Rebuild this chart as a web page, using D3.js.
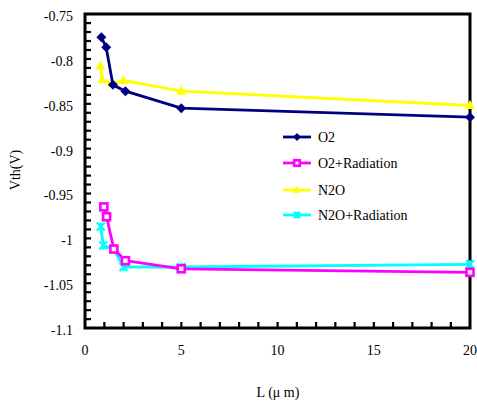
<!DOCTYPE html>
<html>
<head>
<meta charset="utf-8">
<script src="https://cdn.jsdelivr.net/npm/d3@7"></script>
<style>
  html, body { margin: 0; padding: 0; background: #fff; }
  svg text { font-family: "Liberation Serif", "Times New Roman", serif; }
</style>
</head>
<body>
<svg id="chart" width="477" height="405" xmlns="http://www.w3.org/2000/svg"></svg>
<script>
// Threshold voltage vs gate length for four oxidation conditions
const seriesNames = ["O2", "O2+Radiation", "N2O", "N2O+Radiation"];
const seriesColors = ["#000080", "#ff00ff", "#ffff00", "#00ffff"];
const seriesMarkers = ["diamond", "square", "triangle", "star"];

const lenO2 = [0.85, 1.1, 1.45, 2.1, 5, 20];
const vthO2 = [-0.776, -0.787, -0.829, -0.836, -0.855, -0.865];

const lenO2Rad = [0.98, 1.12, 1.5, 2.1, 5, 20];
const vthO2Rad = [-0.965, -0.976, -1.012, -1.025, -1.034, -1.038];

const lenN2O = [0.8, 0.9, 1.4, 2.0, 5, 20];
const vthN2O = [-0.808, -0.823, -0.828, -0.824, -0.836, -0.852];

const lenN2ORad = [0.82, 0.95, 1.5, 2.0, 5, 20];
const vthN2ORad = [-0.987, -1.008, -1.012, -1.032, -1.032, -1.029];

const xTickLabels = ["0", "5", "10", "15", "20"];
const yTickLabels = ["-0.75", "-0.8", "-0.85", "-0.9", "-0.95", "-1", "-1.05", "-1.1"];

const seriesData = [
  { x: lenO2, y: vthO2 },
  { x: lenO2Rad, y: vthO2Rad },
  { x: lenN2O, y: vthN2O },
  { x: lenN2ORad, y: vthN2ORad }
];

const svg = d3.select("#chart");
const plotLeft = 85, plotRight = 470, plotTop = 14, plotBottom = 328;
const serif = "'Liberation Serif', 'Times New Roman', serif";

const x = d3.scaleLinear().domain([0, 20]).range([plotLeft, plotRight]);
const y = d3.scaleLinear().domain([-1.1, -0.75]).range([plotBottom, plotTop]);

// Series lines and markers
const line = d3.line().x(d => x(d[0])).y(d => y(d[1]));

function drawMarker(g, type, color, cx, cy, s) {
  if (type === "diamond") {
    g.append("path")
      .attr("d", `M${cx},${cy - s}L${cx + s},${cy}L${cx},${cy + s}L${cx - s},${cy}Z`)
      .attr("fill", color);
  } else if (type === "square") {
    g.append("rect")
      .attr("x", cx - s * 0.7).attr("y", cy - s * 0.7)
      .attr("width", s * 1.4).attr("height", s * 1.4)
      .attr("fill", "#fff").attr("stroke", color).attr("stroke-width", 2.6);
  } else if (type === "triangle") {
    g.append("path")
      .attr("d", `M${cx},${cy - s * 1.1}L${cx + s},${cy + s * 0.7}L${cx - s},${cy + s * 0.7}Z`)
      .attr("fill", color);
  } else if (type === "star") {
    const r = s * 0.8;
    g.append("path")
      .attr("d", `M${cx - r},${cy - r}L${cx + r},${cy + r}M${cx - r},${cy + r}L${cx + r},${cy - r}M${cx},${cy - r}L${cx},${cy + r}`)
      .attr("stroke", color).attr("stroke-width", 2.2).attr("fill", "none");
  }
}

const drawOrder = [2, 0, 3, 1];
drawOrder.forEach(i => {
  const s = seriesData[i];
  const pts = s.x.map((v, k) => [v, s.y[k]]);
  const g = svg.append("g");
  g.append("path").datum(pts)
    .attr("d", line)
    .attr("fill", "none")
    .attr("stroke", seriesColors[i])
    .attr("stroke-width", 2.8)
    .attr("stroke-linejoin", "round");
  pts.filter(p => p[0] < 20)
    .forEach(p => drawMarker(g, seriesMarkers[i], seriesColors[i], x(p[0]), y(p[1]), 5));
});

// Plot frame
svg.append("rect")
  .attr("x", plotLeft).attr("y", plotTop)
  .attr("width", plotRight - plotLeft).attr("height", plotBottom - plotTop)
  .attr("fill", "none").attr("stroke", "#000").attr("stroke-width", 3);

// Markers sitting on the right edge go above the frame
drawOrder.forEach(i => {
  const s = seriesData[i];
  const k = s.x.length - 1;
  drawMarker(svg, seriesMarkers[i], seriesColors[i], x(s.x[k]), y(s.y[k]), 5);
});

// Minor ticks (every 1 µm and every 0.01 V) pointing into the plot
const xMinor = d3.range(1, 20, 1);
const yMinor = d3.range(1, 35, 1).map(i => -1.1 + i * 0.01);
const tickLen = 6;

svg.append("g").selectAll("rect")
  .data(xMinor).join("rect")
  .attr("x", d => x(d) - 1).attr("y", plotBottom - tickLen)
  .attr("width", 2.2).attr("height", tickLen)
  .attr("fill", "#000");

svg.append("g").selectAll("rect")
  .data(yMinor).join("rect")
  .attr("x", plotLeft).attr("y", d => y(d) - 1)
  .attr("width", tickLen).attr("height", 2.2)
  .attr("fill", "#000");

// Tick labels
svg.append("g").selectAll("text")
  .data(xTickLabels).join("text")
  .attr("x", d => x(+d)).attr("y", plotBottom + 27)
  .attr("text-anchor", "middle")
  .attr("font-family", serif)
  .attr("font-size", 14)
  .text(d => d);

svg.append("g").selectAll("text")
  .data(yTickLabels).join("text")
  .attr("x", plotLeft - 12).attr("y", d => y(+d) + 7)
  .attr("text-anchor", "end")
  .attr("font-family", serif)
  .attr("font-size", 14)
  .text(d => d);

// Axis titles
svg.append("text")
  .attr("x", 278).attr("y", 397)
  .attr("text-anchor", "middle")
  .attr("font-family", serif)
  .attr("font-size", 14)
  .text("L (\u03bc m)");

svg.append("text")
  .attr("transform", "translate(20,170) rotate(-90)")
  .attr("text-anchor", "middle")
  .attr("font-family", serif)
  .attr("font-size", 14)
  .text("Vth(V)");

// Legend
const legendRows = [0, 1, 2, 3];
const legendY = [137, 163, 190, 215];
const lg = svg.append("g");
legendRows.forEach((i, r) => {
  const yy = legendY[r];
  lg.append("line")
    .attr("x1", 283).attr("x2", 311).attr("y1", yy).attr("y2", yy)
    .attr("stroke", seriesColors[i]).attr("stroke-width", 2.8);
  drawMarker(lg, seriesMarkers[i], seriesColors[i], 297, yy, 4);
  lg.append("text")
    .attr("x", 318).attr("y", yy + 5)
    .attr("font-family", serif)
    .attr("font-size", 14)
    .text(seriesNames[i]);
});
</script>
</body>
</html>
